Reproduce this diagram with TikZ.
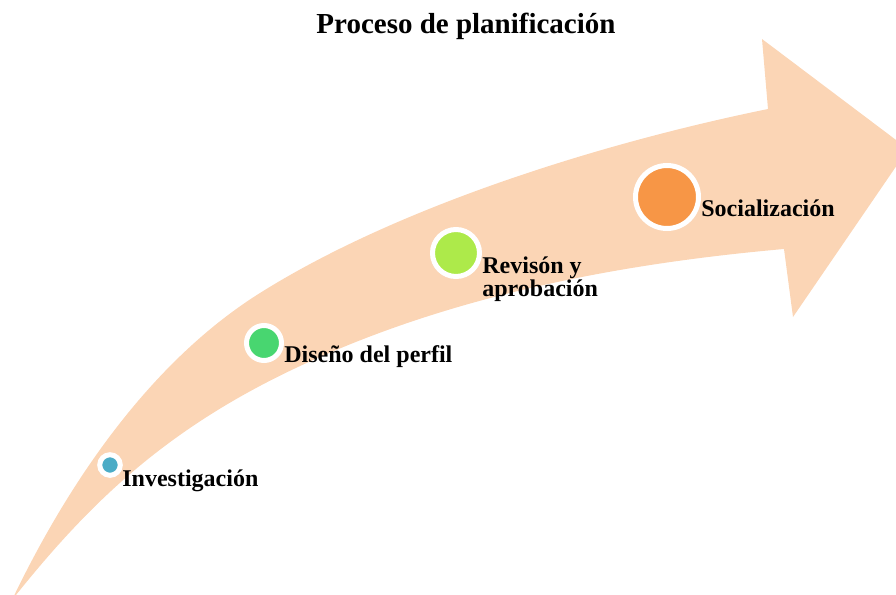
\documentclass[tikz,border=0pt]{standalone}
\usepackage{fontspec}
\setmainfont{Liberation Serif}
\usepackage{tikz}
\usepackage{xcolor}
\definecolor{flecha}{HTML}{FBD5B5}
\definecolor{azul}{HTML}{4BACC6}
\definecolor{verde}{HTML}{48D670}
\definecolor{lima}{HTML}{ADEA4A}
\definecolor{naranja}{HTML}{F79646}

\begin{document}
\begin{tikzpicture}[x=0.5pt,y=-0.5pt,
  hito/.style={circle,draw=white,line width=2.5pt,inner sep=0pt},
  etiqueta/.style={anchor=base west,inner sep=0pt,align=left,font=\fontsize{12}{11.5}\selectfont\bfseries}]
\useasboundingbox (0,0) rectangle (896,595);
\clip (0,0) rectangle (896,595);
% flecha curva
\fill[flecha] (12,600) .. controls (68,483) and (150,362) .. (260,293)
  .. controls (400,205) and (606,142) .. (768,109)
  -- (762,39) -- (908,149) -- (793,317) -- (784,249)
  .. controls (626,263) and (465,293) .. (320,357)
  .. controls (174,421) and (93,498) .. (12,600) -- cycle;

\node[font=\fontsize{14.5}{17}\selectfont\bfseries,anchor=base] (titulo) at (466,33) {Proceso de planificación};

\node[hito,fill=azul,minimum size=10.3pt] (inv) at (110,465) {};
\node[hito,fill=verde,minimum size=17.5pt] (dis) at (264,343) {};
\node[hito,fill=lima,minimum size=23.5pt] (rev) at (456,253) {};
\node[hito,fill=naranja,minimum size=31.5pt] (soc) at (667,197) {};

\node[etiqueta] (tinv) at (122,486) {Investigación};
\node[etiqueta] (tdis) at (284,362) {Diseño del perfil};
\node[etiqueta] (trev) at (482,296) {Revisón y\\aprobación};
\node[etiqueta] (tsoc) at (701,216) {Socialización};

\end{tikzpicture}
\end{document}
